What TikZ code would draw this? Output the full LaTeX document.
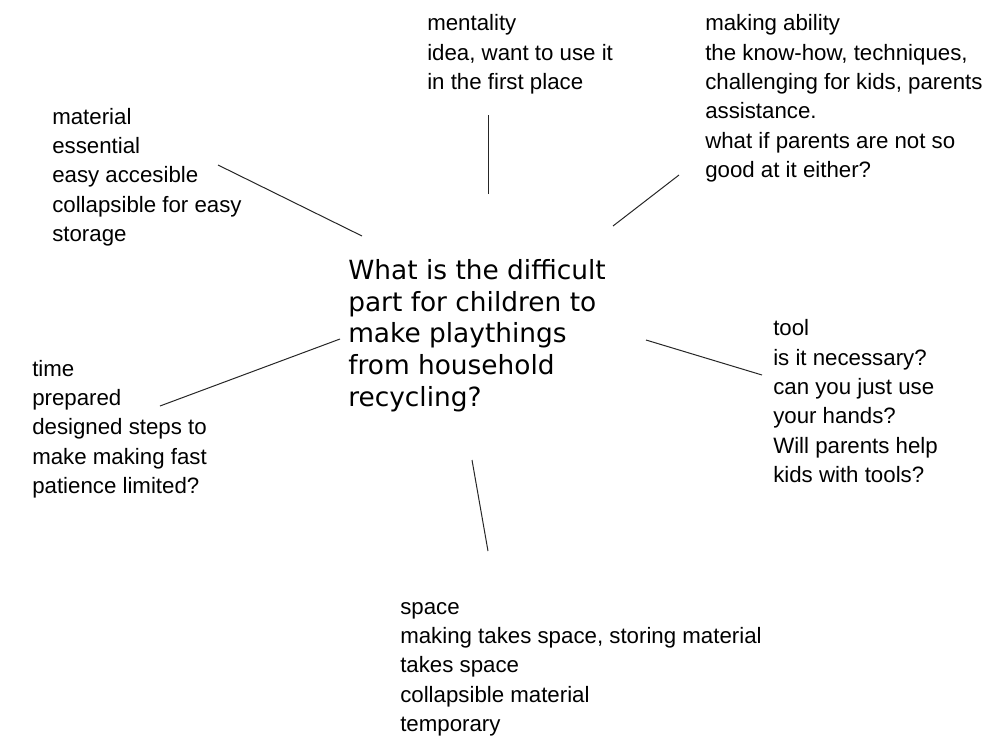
\documentclass[tikz,border=0pt]{standalone}
\usepackage{fontspec}
\setmainfont{Liberation Sans}
\newfontfamily\questionfont{DejaVu Sans}

\tikzset{
    note/.style={anchor=base west, inner sep=0pt, align=left,
        font=\fontsize{16.7}{22}\selectfont},
    question/.style={anchor=base west, inner sep=0pt, align=left,
        font=\questionfont\fontsize{19.8}{23.7}\selectfont},
    spoke/.style={line width=0.75pt, black!85}
}

\begin{document}
\begin{tikzpicture}[x=0.75pt, y=-0.75pt]
    \useasboundingbox (0,0) rectangle (1001,736);

    % Nodes (placed at the baseline of their last line)
    \node (question) [question] at (348,406) {What is the difficult\\part for children to\\make playthings\\from household\\recycling?};
    \node (mentality) [note] at (427,89.5) {mentality\\idea, want to use it\\in the first place};
    \node (ability) [note] at (705,177.5) {making ability\\the know-how, techniques,\\challenging for kids, parents\\assistance.\\what if parents are not so\\good at it either?};
    \node (material) [note] at (52,241.5) {material\\essential\\easy accesible\\collapsible for easy\\storage};
    \node (time) [note] at (32,493.5) {time\\prepared\\designed steps to\\make making fast\\patience limited?};
    \node (tool) [note] at (773,482.5) {tool\\is it necessary?\\can you just use\\your hands?\\Will parents help\\kids with tools?};
    \node (space) [note] at (400,731.5) {space\\making takes space, storing material\\takes space\\collapsible material\\temporary};

    % Line ends
    \coordinate (mentality-end) at (488,115);
    \coordinate (mentality-start) at (488,194);
    \coordinate (ability-end) at (679,175);
    \coordinate (ability-start) at (613,226);
    \coordinate (material-end) at (218,165);
    \coordinate (material-start) at (362,236);
    \coordinate (time-end) at (160,406);
    \coordinate (time-start) at (340,339);
    \coordinate (tool-end) at (762,375);
    \coordinate (tool-start) at (646,340);
    \coordinate (space-end) at (488,551);
    \coordinate (space-start) at (472,460);

    % Lines
    \draw[spoke] (mentality-start) -- (mentality-end);
    \draw[spoke] (ability-start) -- (ability-end);
    \draw[spoke] (material-start) -- (material-end);
    \draw[spoke] (time-start) -- (time-end);
    \draw[spoke] (tool-start) -- (tool-end);
    \draw[spoke] (space-start) -- (space-end);
\end{tikzpicture}
\end{document}
